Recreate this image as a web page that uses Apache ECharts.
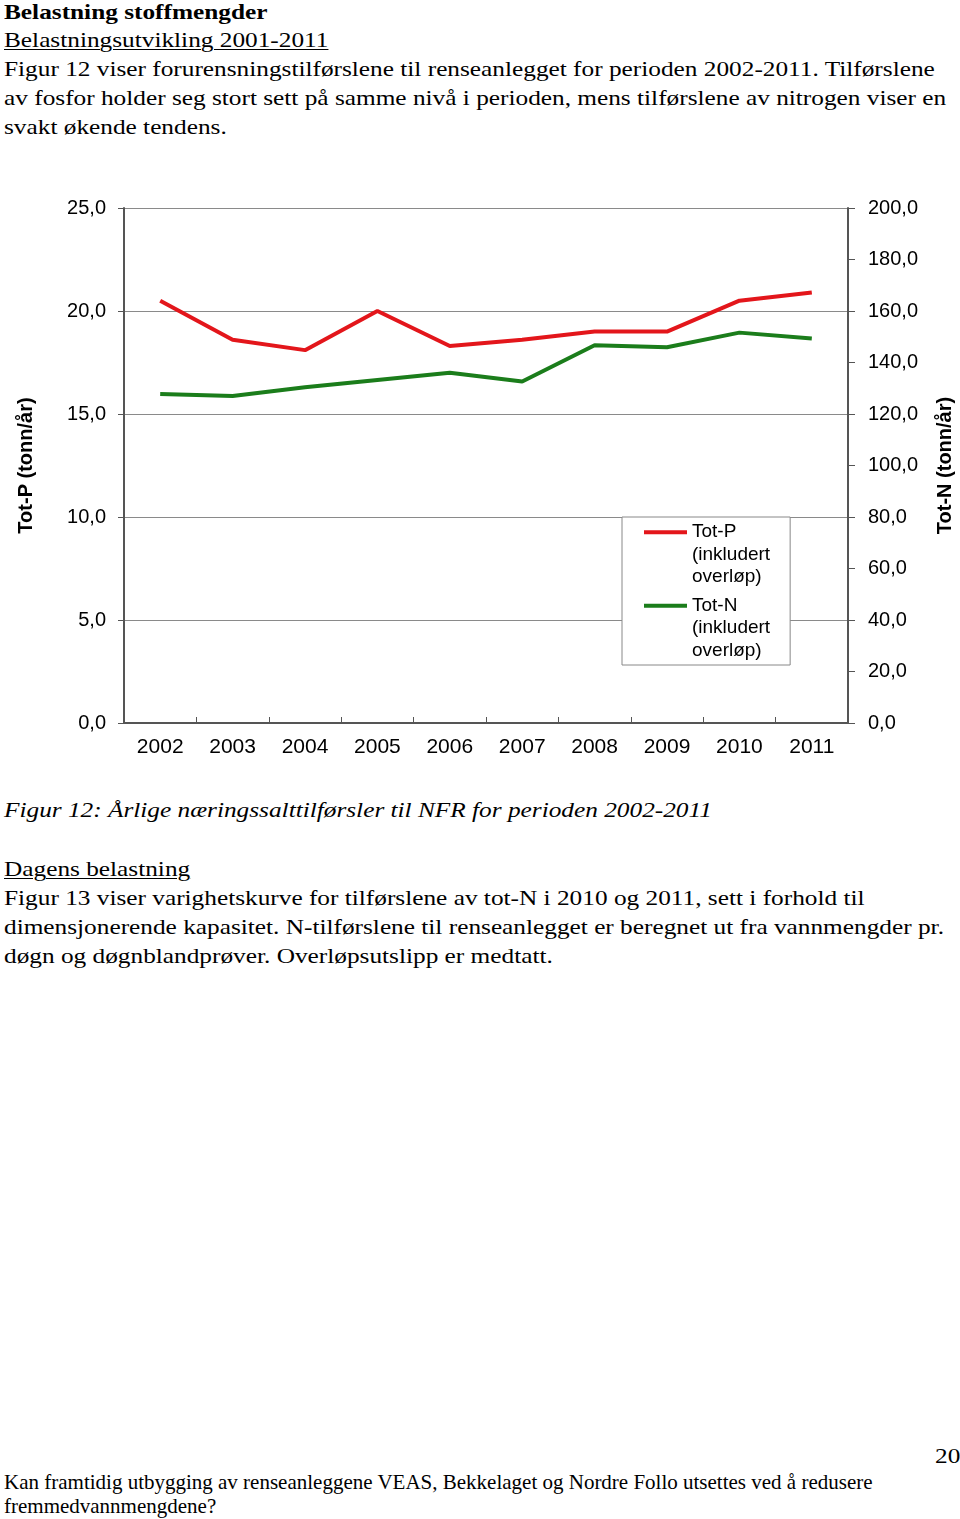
<!DOCTYPE html>
<html>
<head>
<meta charset="utf-8">
<script src="https://cdn.jsdelivr.net/npm/echarts@6/dist/echarts.min.js"></script>
<style>
  html, body { margin: 0; padding: 0; background: #fff; }
  body { width: 960px; height: 1519px; position: relative; overflow: hidden; font-family: "Liberation Serif", "Times New Roman", serif; color: #000; }
  .ln { position: absolute; left: 4px; white-space: nowrap; font-size: 22px; line-height: 28px; height: 28px; transform: scaleX(1.15); transform-origin: 0 50%; }
  .ft { font-size: 21px; line-height: 24px; height: 24px; transform: none; }
  .u { text-decoration: underline; text-decoration-thickness: 1px; text-underline-offset: 2px; }
  #chart { position: absolute; left: 0; top: 180px; width: 960px; height: 600px; }
</style>
</head>
<body>
<div class="ln" style="top:-2px;font-weight:bold;">Belastning stoffmengder</div>
<div class="ln u" style="top:26px;">Belastningsutvikling 2001-2011</div>
<div class="ln" style="top:55px;">Figur 12 viser forurensningstilførslene til renseanlegget for perioden 2002-2011. Tilførslene</div>
<div class="ln" style="top:84px;">av fosfor holder seg stort sett på samme nivå i perioden, mens tilførslene av nitrogen viser en</div>
<div class="ln" style="top:113px;">svakt økende tendens.</div>

<div id="chart"></div>

<div class="ln" style="top:796px;font-style:italic;">Figur 12: Årlige næringssalttilførsler til NFR for perioden 2002-2011</div>
<div class="ln u" style="top:855px;">Dagens belastning</div>
<div class="ln" style="top:884px;">Figur 13 viser varighetskurve for tilførslene av tot-N i 2010 og 2011, sett i forhold til</div>
<div class="ln" style="top:913px;">dimensjonerende kapasitet. N-tilførslene til renseanlegget er beregnet ut fra vannmengder pr.</div>
<div class="ln" style="top:942px;">døgn og døgnblandprøver. Overløpsutslipp er medtatt.</div>

<div class="ln" style="top:1442px;left:935px;">20</div>
<div class="ln ft" style="top:1470px;">Kan framtidig utbygging av renseanleggene VEAS, Bekkelaget og Nordre Follo utsettes ved å redusere</div>
<div class="ln ft" style="top:1494px;">fremmedvannmengdene?</div>

<script>
const years = ['2002','2003','2004','2005','2006','2007','2008','2009','2010','2011'];
const totP = [20.5, 18.6, 18.1, 20.0, 18.3, 18.6, 19.0, 19.0, 20.5, 20.9];
const totN = [127.8, 127.0, 130.4, 133.2, 136.0, 132.6, 146.7, 145.9, 151.6, 149.3];
const seriesNames = ['Tot-P\n(inkludert\noverløp)', 'Tot-N\n(inkludert\noverløp)'];
const leftAxisName = 'Tot-P (tonn/år)';
const rightAxisName = 'Tot-N (tonn/år)';

const fmt = v => v.toFixed(1).replace('.', ',');
const sans = '"Liberation Sans", Arial, sans-serif';
const legendIcon = 'path://M0,0H0.02V0.02Z M0,9H43V13H0Z M0,67H0.02V66.98Z';

const chart = echarts.init(document.getElementById('chart'), null, { renderer: 'canvas' });
chart.setOption({
  animation: false,
  textStyle: { fontFamily: sans },
  grid: { left: 124, right: 112, top: 28, bottom: 57, containLabel: false, outerBoundsMode: 'none' },
  legend: {
    orient: 'vertical',
    left: 622,
    top: 337,
    width: 169,
    padding: [4, 20, 3, 22],
    itemGap: 6,
    itemWidth: 43,
    itemHeight: 67,
    backgroundColor: '#fff',
    borderColor: '#888',
    borderWidth: 1,
    borderRadius: 0,
    icon: legendIcon,
    itemStyle: { borderWidth: 0 },
    textStyle: { fontFamily: sans, fontSize: 19, color: '#000', lineHeight: 22.5 },
    data: seriesNames
  },
  xAxis: {
    type: 'category',
    data: years,
    boundaryGap: true,
    axisLine: { lineStyle: { color: '#555', width: 2 } },
    axisTick: { show: true, inside: true, length: 6, lineStyle: { color: '#555', width: 1 } },
    axisLabel: { color: '#000', fontSize: 21, margin: 14, fontFamily: sans },
    splitLine: { show: false }
  },
  yAxis: [
    {
      type: 'value', min: 0, max: 25, interval: 5,
      name: leftAxisName, nameLocation: 'middle', nameGap: 88, nameRotate: 90,
      nameTextStyle: { fontWeight: 'bold', fontSize: 20, color: '#000', fontFamily: sans },
      axisLine: { show: true, lineStyle: { color: '#555', width: 2 } },
      axisTick: { show: true, inside: false, length: 6, lineStyle: { color: '#555' } },
      axisLabel: { color: '#000', fontSize: 20, margin: 18, formatter: fmt, fontFamily: sans },
      splitLine: { show: true, lineStyle: { color: '#8a8a8a', width: 1 } }
    },
    {
      type: 'value', min: 0, max: 200, interval: 20, position: 'right',
      name: rightAxisName, nameLocation: 'middle', nameGap: 87, nameRotate: 90,
      nameTextStyle: { fontWeight: 'bold', fontSize: 20, color: '#000', fontFamily: sans },
      axisLine: { show: true, lineStyle: { color: '#555', width: 2 } },
      axisTick: { show: true, inside: false, length: 7, lineStyle: { color: '#555' } },
      axisLabel: { color: '#000', fontSize: 20, margin: 20, formatter: fmt, fontFamily: sans },
      splitLine: { show: false }
    }
  ],
  series: [
    {
      name: seriesNames[0], type: 'line', yAxisIndex: 0, data: totP,
      color: '#e3161b', symbol: 'none', showSymbol: false,
      lineStyle: { color: '#e3161b', width: 4 }
    },
    {
      name: seriesNames[1], type: 'line', yAxisIndex: 1, data: totN,
      color: '#1b7d1b', symbol: 'none', showSymbol: false,
      lineStyle: { color: '#1b7d1b', width: 4 }
    }
  ]
});
</script>
</body>
</html>
